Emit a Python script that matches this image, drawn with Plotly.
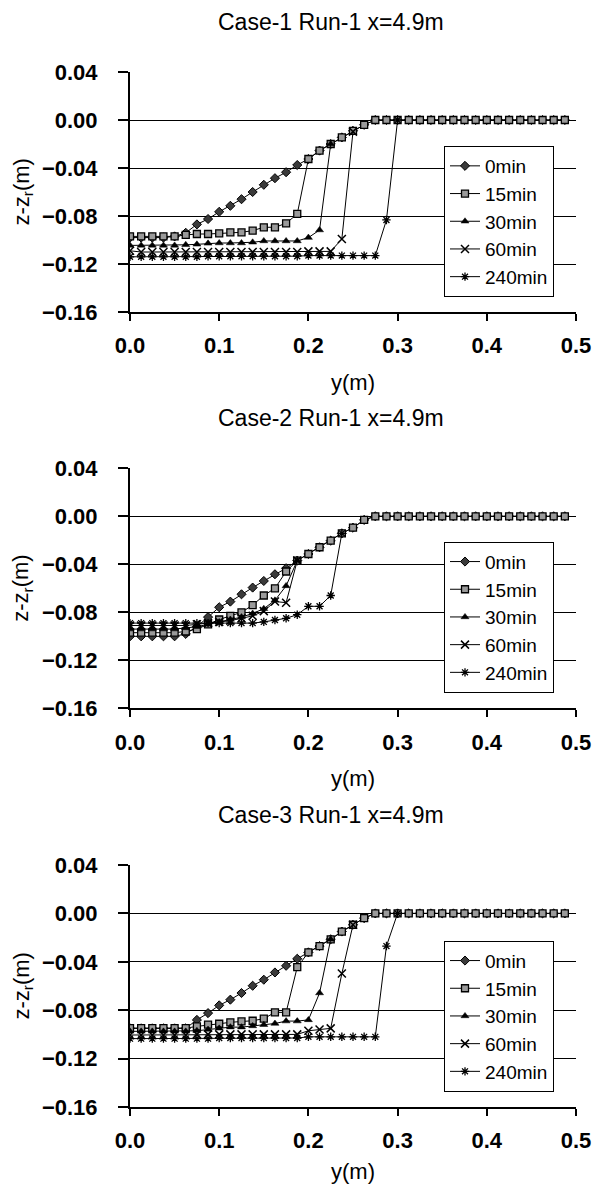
import plotly.graph_objects as go

# ---------------- data ----------------
y_pos = [0.0, 0.0125, 0.025, 0.0375, 0.05, 0.0625, 0.075, 0.0875, 0.1, 0.1125,
         0.125, 0.1375, 0.15, 0.1625, 0.175, 0.1875, 0.2, 0.2125, 0.225, 0.2375,
         0.25, 0.2625, 0.275, 0.2875, 0.3, 0.3125, 0.325, 0.3375, 0.35, 0.3625,
         0.375, 0.3875, 0.4, 0.4125, 0.425, 0.4375, 0.45, 0.4625, 0.475, 0.4875]

series_names = ["0min", "15min", "30min", "60min", "240min"]
titles = ["Case-1 Run-1 x=4.9m", "Case-2 Run-1 x=4.9m", "Case-3 Run-1 x=4.9m"]
x_ticks = [0.0, 0.1, 0.2, 0.3, 0.4, 0.5]
z_ticks = [-0.16, -0.12, -0.08, -0.04, 0.0, 0.04]

# Case-1
p1_0min = [-0.098, -0.098, -0.098, -0.098, -0.097, -0.094, -0.087, -0.0825, -0.0765, -0.0715,
           -0.066, -0.060, -0.054, -0.0485, -0.0435, -0.0375, -0.0325, -0.0255, -0.020, -0.0145,
           -0.009, -0.004, 0, 0, 0, 0, 0, 0, 0, 0,
           0, 0, 0, 0, 0, 0, 0, 0, 0, 0]
p1_15min = [-0.097, -0.097, -0.097, -0.097, -0.097, -0.0958, -0.095, -0.095, -0.0944, -0.0936,
            -0.0936, -0.0922, -0.0894, -0.0894, -0.0861, -0.0783, -0.0325, -0.0255, -0.020, -0.0145,
            -0.009, -0.004, 0, 0, 0, 0, 0, 0, 0, 0,
            0, 0, 0, 0, 0, 0, 0, 0, 0, 0]
p1_30min = [-0.1045, -0.1045, -0.1045, -0.1045, -0.1045, -0.104, -0.1036, -0.1028, -0.1025, -0.1025,
            -0.1025, -0.1019, -0.1008, -0.1008, -0.1008, -0.1008, -0.098, -0.0917, -0.020]
p1_60min = [-0.109, -0.110, -0.110, -0.110, -0.110, -0.110, -0.110, -0.110, -0.110, -0.110,
            -0.110, -0.110, -0.110, -0.110, -0.110, -0.110, -0.1095, -0.1095, -0.1095, -0.0992,
            -0.0097]
p1_240min = [-0.114, -0.114, -0.114, -0.114, -0.114, -0.114, -0.114, -0.1135, -0.1135, -0.1135,
             -0.1135, -0.1135, -0.1135, -0.1135, -0.1135, -0.1135, -0.113, -0.113, -0.113, -0.113,
             -0.113, -0.113, -0.113, -0.0833, 0.0]

# Case-2
p2_0min = [-0.100, -0.100, -0.100, -0.100, -0.100, -0.098, -0.092, -0.084, -0.0758, -0.0711,
           -0.065, -0.0594, -0.0539, -0.0483, -0.0433, -0.0369, -0.0314, -0.0258, -0.0203, -0.0142,
           -0.0095, -0.003, 0, 0, 0, 0, 0, 0, 0, 0,
           0, 0, 0, 0, 0, 0, 0, 0, 0, 0]
p2_15min = [-0.097, -0.097, -0.097, -0.097, -0.097, -0.096, -0.094, -0.090, -0.086, -0.083,
            -0.080, -0.074, -0.066, -0.060, -0.046, -0.0369, -0.0314, -0.0258, -0.0203, -0.0142,
            -0.0095, -0.003, 0, 0, 0, 0, 0, 0, 0, 0,
            0, 0, 0, 0, 0, 0, 0, 0, 0, 0]
p2_30min = [-0.094, -0.094, -0.094, -0.094, -0.094, -0.093, -0.092, -0.090, -0.088, -0.086,
            -0.084, -0.081, -0.077, -0.070, -0.058, -0.0369]
p2_60min = [-0.091, -0.091, -0.091, -0.091, -0.091, -0.091, -0.090, -0.089, -0.088, -0.087,
            -0.085, -0.083, -0.079, -0.071, -0.072, -0.0369]
p2_240min = [-0.089, -0.089, -0.089, -0.089, -0.089, -0.089, -0.089, -0.089, -0.089, -0.089,
             -0.089, -0.089, -0.088, -0.0864, -0.085, -0.082, -0.075, -0.075, -0.066, -0.0142]

# Case-3
p3_0min = [-0.095, -0.095, -0.095, -0.095, -0.095, -0.095, -0.088, -0.0824, -0.076, -0.0713,
           -0.0658, -0.0598, -0.0548, -0.0488, -0.0433, -0.0375, -0.0322, -0.027, -0.0214, -0.015,
           -0.0094, -0.0039, 0, 0, 0, 0, 0, 0, 0, 0,
           0, 0, 0, 0, 0, 0, 0, 0, 0, 0]
p3_15min = [-0.0948, -0.0948, -0.0948, -0.0948, -0.0948, -0.0948, -0.0934, -0.092, -0.0912, -0.090,
            -0.0893, -0.0887, -0.087, -0.0818, -0.0818, -0.0444, -0.0322, -0.027, -0.0214, -0.015,
            -0.0094, -0.0039, 0, 0, 0, 0, 0, 0, 0, 0,
            0, 0, 0, 0, 0, 0, 0, 0, 0, 0]
p3_30min = [-0.0975, -0.0975, -0.0975, -0.0975, -0.0975, -0.0975, -0.097, -0.096, -0.095, -0.094,
            -0.094, -0.093, -0.092, -0.091, -0.089, -0.089, -0.088, -0.0658, -0.0214]
p3_60min = [-0.1005, -0.1005, -0.1005, -0.1005, -0.1005, -0.1005, -0.100, -0.100, -0.100, -0.100,
            -0.100, -0.100, -0.100, -0.100, -0.100, -0.100, -0.097, -0.096, -0.095, -0.0497,
            -0.0094]
p3_240min = [-0.1035, -0.1035, -0.1035, -0.1035, -0.1035, -0.1035, -0.1035, -0.1035, -0.103, -0.103,
             -0.103, -0.103, -0.103, -0.103, -0.103, -0.103, -0.102, -0.102, -0.102, -0.102,
             -0.102, -0.102, -0.102, -0.027, 0.0]

panels = [
    [p1_0min, p1_15min, p1_30min, p1_60min, p1_240min],
    [p2_0min, p2_15min, p2_30min, p2_60min, p2_240min],
    [p3_0min, p3_15min, p3_30min, p3_60min, p3_240min],
]

# ---------------- styles ----------------
W, H = 592, 1186
ML, MR = 130, 16
PW = W - ML - MR
FONT = "Liberation Sans, Arial, sans-serif"

marker_styles = [
    dict(symbol="diamond", size=7, color="#3a3a3a", line=dict(color="black", width=1)),
    dict(symbol="square", size=7, color="#9a9a9a", line=dict(color="black", width=1.3)),
    dict(symbol="triangle-up", size=7, color="black", line=dict(color="black", width=0.5)),
    dict(symbol="x-thin-open", size=8, color="black", line=dict(color="black", width=1.5)),
    dict(symbol="asterisk-open", size=7, color="black", line=dict(color="black", width=1.3)),
]

# pixel geometry of each plot area (top, bottom)
plot_px = [(72, 312), (468.3, 708.3), (865, 1107)]
title_px = [22, 417.5, 814.5]
xtitle_px = [382, 778, 1171]
legend_top_px = [146, 541.7, 940.7]

fig = go.Figure()
legend_keys = ["legend", "legend2", "legend3"]

for p, series in enumerate(panels):
    xa = "x" if p == 0 else f"x{p+1}"
    ya = "y" if p == 0 else f"y{p+1}"
    for s, z in enumerate(series):
        fig.add_trace(go.Scatter(
            x=y_pos[:len(z)], y=z, name=series_names[s],
            mode="lines+markers",
            line=dict(color="black", width=1),
            marker=marker_styles[s],
            xaxis=xa, yaxis=ya,
            legend=legend_keys[p],
            legendgroup=f"p{p}_{s}",
        ))

layout = dict(
    width=W, height=H,
    margin=dict(l=ML, r=MR, t=0, b=0, pad=0, autoexpand=False),
    paper_bgcolor="white", plot_bgcolor="white",
    font=dict(family=FONT, color="black", size=20),
    showlegend=True,
)

annotations = []
for p in range(3):
    top, bot = plot_px[p]
    dom = [1 - bot / H, 1 - top / H]
    suffix = "" if p == 0 else str(p + 1)
    layout["xaxis" + suffix] = dict(
        domain=[0, 1], anchor="y" + suffix, range=[0, 0.5],
        tickvals=x_ticks, tickformat=".1f",
        showline=True, linecolor="black", linewidth=2,
        ticks="outside", ticklen=7, tickwidth=1.5, tickcolor="black",
        showgrid=False, zeroline=False, automargin=False,
        tickfont=dict(family=FONT, size=22, weight="bold"),
        ticklabelstandoff=6,
    )
    layout["yaxis" + suffix] = dict(
        domain=dom, anchor="x" + suffix, range=[-0.16, 0.04],
        tickvals=z_ticks, tickformat=".2f",
        showline=True, linecolor="black", linewidth=2,
        ticks="outside", ticklen=10, tickwidth=1.5, tickcolor="black",
        showgrid=True, gridcolor="black", gridwidth=1.2, zeroline=False, automargin=False,
        tickfont=dict(family=FONT, size=22, weight="bold"),
        ticklabelstandoff=16,
    )
    lk = legend_keys[p]
    layout[lk] = dict(
        x=(444 - ML) / PW, y=1 - legend_top_px[p] / H,
        xanchor="left", yanchor="top",
        bgcolor="white", bordercolor="black", borderwidth=1,
        font=dict(family=FONT, size=19, color="black"),
        tracegroupgap=0, itemwidth=30, traceorder="grouped",
    )
    # panel title
    annotations.append(dict(
        text=titles[p], xref="paper", yref="paper",
        x=(331 - ML) / PW, y=1 - title_px[p] / H,
        xanchor="center", yanchor="middle", showarrow=False,
        font=dict(family=FONT, size=23, color="black"),
    ))
    # x axis title
    annotations.append(dict(
        text="y(m)", xref="paper", yref="paper",
        x=0.5, y=1 - xtitle_px[p] / H,
        xanchor="center", yanchor="middle", showarrow=False,
        font=dict(family=FONT, size=22, color="black"),
    ))
    # y axis title
    annotations.append(dict(
        text="z-z<sub>r</sub>(m)", xref="paper", yref="paper",
        x=(22.5 - ML) / PW, y=1 - (top + bot) / 2 / H,
        xanchor="center", yanchor="middle", showarrow=False, textangle=-90,
        font=dict(family=FONT, size=22, color="black"),
    ))

layout["annotations"] = annotations
fig.update_layout(**layout)

fig.write_html("out.html")
